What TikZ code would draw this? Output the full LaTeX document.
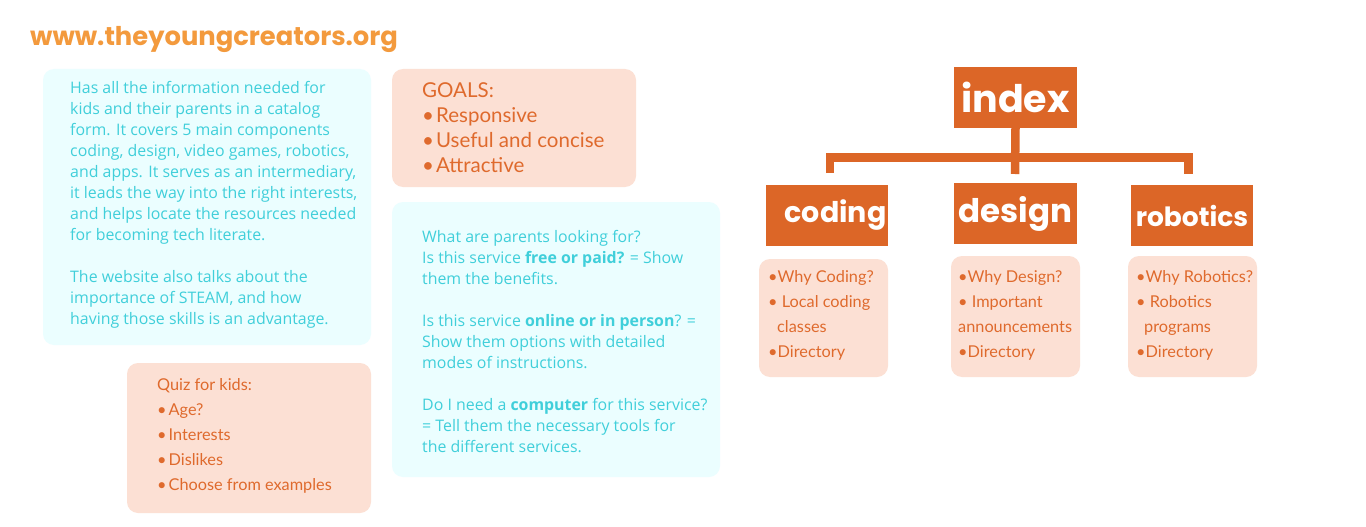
\documentclass[tikz,border=0pt]{standalone}
\usepackage{fontspec}
\setmainfont{Lato}
\newfontfamily\pop{Poppins}
\newfontfamily\opens{Open Sans}
\definecolor{urlor}{HTML}{F39A3D}
\definecolor{boxor}{HTML}{DC6627}
\definecolor{txtor}{HTML}{DF6A2D}
\definecolor{peach}{HTML}{FCE0D4}
\definecolor{cyfill}{HTML}{EBFEFF}
\definecolor{cytext}{HTML}{40CFDA}
\tikzset{
  x=1pt,y=-1pt,
  panel/.style={rounded corners=11pt,inner sep=0pt,outer sep=0pt},
  cypanel/.style={panel,fill=cyfill},
  pepanel/.style={panel,fill=peach},
  cytxt/.style={anchor=west,inner sep=0pt,align=left,text=cytext,font=\opens\fontsize{15.9}{21}\selectfont},
  ortxt/.style={anchor=west,inner sep=0pt,align=left,text=txtor,font=\fontsize{16.3}{25}\selectfont},
  headbox/.style={fill=boxor,text=white,inner sep=0pt,font=\pop\bfseries},
  conn/.style={draw=boxor,line width=8.5pt,line join=miter}
}
\newcommand{\bul}{•\hspace{2pt}}
\begin{document}
\begin{tikzpicture}
\useasboundingbox (0,0) rectangle (1366,527);
\fill[white] (0,0) rectangle (1366,527);
% URL
\node[anchor=west,inner sep=0pt,text=urlor,font=\pop\bfseries\fontsize{25.8}{28}\selectfont] (url) at (30,40) {www.theyoungcreators.org};
% panels
\fill[cypanel] (43,69) rectangle (371,345);
\node[cytxt,anchor=north west] (t1) at (70,81) {Has all the information needed for\\kids and their parents in a catalog\\form. It covers 5 main components\\coding, design, video games, robotics,\\and apps. It serves as an intermediary,\\it leads the way into the right interests,\\and helps locate the resources needed\\for becoming tech literate.\\[21pt]The website also talks about the\\importance of STEAM, and how\\having those skills is an advantage.};
\fill[pepanel] (392,69) rectangle (636,187);
\node[anchor=north west,inner sep=0pt,align=left,text=txtor,font=\fontsize{20.5}{25}\selectfont] (goals) at (422,82) {GOALS:\\\bul Responsive\\\bul Useful and concise\\\bul Attractive};
\fill[cypanel] (392,202) rectangle (720,477);
\node[cytxt,anchor=north west] (t2) at (422,230) {What are parents looking for?\\Is this service \textbf{free or paid?} = Show\\them the benefits.\\[21pt]Is this service \textbf{online or in person}? =\\Show them options with detailed\\modes of instructions.\\[21pt]Do I need a \textbf{computer} for this service?\\= Tell them the necessary tools for\\the different services.};
\fill[pepanel] (127,363) rectangle (371,513);
\node[ortxt,anchor=north west] (quiz) at (157,378) {Quiz for kids:\\\bul Age?\\\bul Interests\\\bul Dislikes\\\bul Choose from examples};
% tree
\node[headbox,minimum width=123pt,minimum height=61pt,font=\pop\bfseries\fontsize{38}{40}\selectfont] (index) at (1015.5,97.5) {index};
\node[headbox,minimum width=122pt,minimum height=61pt,font=\pop\bfseries\fontsize{28.5}{32}\selectfont] (coding) at (827,215.5) {\hspace{17pt}coding};
\node[headbox,minimum width=123pt,minimum height=61pt,font=\pop\bfseries\fontsize{32.5}{34}\selectfont] (design) at (1015.5,213.5) {design};
\node[headbox,minimum width=122pt,minimum height=61pt,font=\pop\bfseries\fontsize{26.5}{28}\selectfont] (robotics) at (1192,215.5) {robotics};
\coordinate (d1) at (830,173);
\coordinate (d2) at (1015,174);
\coordinate (d3) at (1188.5,174);
\coordinate (bl) at (830,157.5);
\coordinate (br) at (1188.5,157.5);
\draw[conn] (index.south) -- (d2);
\draw[conn] (d1) -- (bl) -- (br) -- (d3);
\fill[pepanel] (759,259) rectangle (888,377);
\node[ortxt,anchor=north west] (s1) at (768,270) {•Why Coding?\\• Local coding\\\hspace{9pt}classes\\•Directory};
\fill[pepanel] (951,256) rectangle (1080,377);
\node[ortxt,anchor=north west] (s2) at (958,270) {•Why Design?\\• Important\\announcements\\•Directory};
\fill[pepanel] (1128,256) rectangle (1257,377);
\node[ortxt,anchor=north west] (s3) at (1136,270) {•Why Robotics?\\• Robotics\\\hspace{8pt}programs\\•Directory};
\end{tikzpicture}
\end{document}
